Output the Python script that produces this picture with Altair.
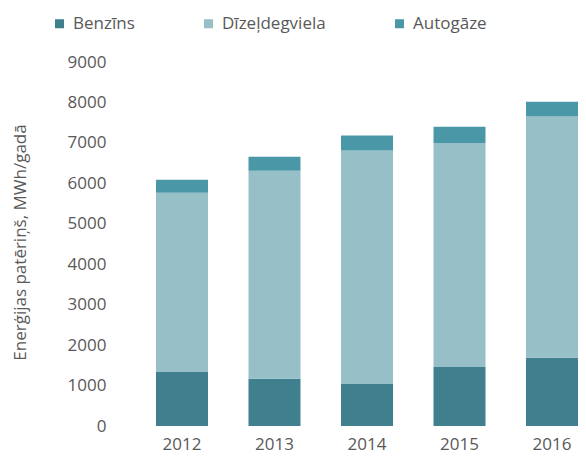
import altair as alt
import pandas as pd

years = ["2012", "2013", "2014", "2015", "2016"]
fuels = ["Benzīns", "Dīzeļdegviela", "Autogāze"]
benzins = [1350, 1170, 1040, 1460, 1690]
dizelis = [4420, 5140, 5770, 5540, 5960]
autogaze = [320, 350, 370, 400, 370]
colors = ["#3f7f8e", "#96bfc8", "#4a97a8"]
y_ticks = [0, 1000, 2000, 3000, 4000, 5000, 6000, 7000, 8000, 9000]

rows = []
for series_i, (name, vals) in enumerate(zip(fuels, [benzins, dizelis, autogaze])):
    for yr, v in zip(years, vals):
        rows.append({"Gads": yr, "Veids": name, "Vertiba": v, "ord": series_i})
df = pd.DataFrame(rows)

FONT = "Open Sans"
GREY = "#595959"

chart = alt.Chart(df).mark_bar().encode(
    x=alt.X("Gads:N", sort=years,
            scale=alt.Scale(paddingInner=0.438, paddingOuter=0.0),
            axis=alt.Axis(title=None, labelAngle=0, domain=False, ticks=False,
                          labelPadding=10, labelFontSize=17, labelFont=FONT,
                          labelColor=GREY, grid=False)),
    y=alt.Y("Vertiba:Q", stack="zero",
            scale=alt.Scale(domain=[0, 9000], nice=False),
            axis=alt.Axis(title="Enerģijas patēriņš, MWh/gadā", values=y_ticks,
                          format="d",
                          domain=False, ticks=False, grid=False,
                          labelPadding=50, labelFontSize=17, labelFont=FONT,
                          labelColor=GREY, titleFont=FONT, titleFontSize=17,
                          titleFontWeight="normal", titleColor=GREY,
                          titleAngle=270, titleX=-136, titleY=180,
                          titleAlign="center", titleBaseline="middle")),
    color=alt.Color("Veids:N", sort=fuels,
                    scale=alt.Scale(domain=fuels, range=colors),
                    legend=alt.Legend(title=None, orient="none", legendX=-105,
                                      legendY=-47, direction="horizontal",
                                      columns=3, columnPadding=65,
                                      symbolType="square", symbolSize=81,
                                      symbolStrokeWidth=0, labelFont=FONT,
                                      labelFontSize=17, labelColor=GREY,
                                      labelOffset=5)),
    order=alt.Order("ord:Q", sort="ascending"),
).properties(
    width=422,
    height=364,
    autosize=alt.AutoSizeParams(type="none"),
    padding={"left": 148, "top": 54, "right": 0, "bottom": 30},
).configure_view(stroke=None)

chart.save("out.html", embed_options={"renderer": "svg", "actions": False})
